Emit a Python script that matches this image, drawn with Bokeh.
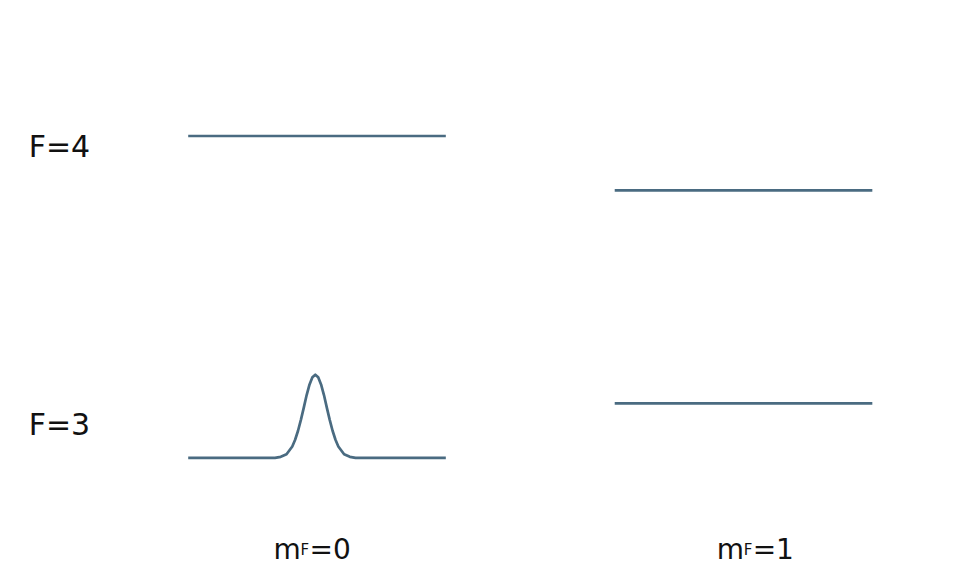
from bokeh.plotting import figure
from bokeh.models import Range1d
from bokeh.embed import file_html
from bokeh.resources import INLINE
from bokeh.core.properties import value

# ---- data ----
mF_values = [0, 1]                 # magnetic sublevels (x positions)
F_names = ["F=4", "F=3"]
E_mF0 = [10.0, 0.0]                # level energies at mF=0 (F=4, F=3)
E_mF1 = [8.31, 1.69]               # level energies at mF=1 (F=4, F=3)
level_half_width = 0.302           # half length of a level bar (in mF units)

# wave packet sitting on the F=3, mF=0 level
bump_x = [-0.0985, -0.0850, -0.0715, -0.0580, -0.0513, -0.0445, -0.0378, -0.0310,
          -0.0243, -0.0175, -0.0108, -0.0040, 0.0028, 0.0095, 0.0163, 0.0230,
          0.0298, 0.0365, 0.0433, 0.0500, 0.0635, 0.0770, 0.0905]
bump_h = [0.0, 0.03, 0.11, 0.35, 0.56, 0.84, 1.18, 1.56,
          1.95, 2.28, 2.50, 2.58, 2.50, 2.28, 1.95, 1.56,
          1.18, 0.84, 0.56, 0.35, 0.11, 0.03, 0.0]

# label placement
F_label_x = -0.676
F_label_y = [9.67, 1.03]
mF_label_x = [-0.102, 0.937]
mF_label_y = -2.86
mF_rest = ["=0", "=1"]

LINE = "#4a6b81"
TXT = "#111111"
FONT = "DejaVu Sans"

p = figure(width=957, height=566, output_backend="svg", toolbar_location=None,
           x_range=Range1d(-0.7421, 1.5017), y_range=Range1d(-3.378, 14.211),
           min_border=0, x_axis_location=None, y_axis_location=None)
p.outline_line_color = None
p.xgrid.visible = False
p.ygrid.visible = False
p.background_fill_color = "white"
p.border_fill_color = "white"

# flat levels: F=4 at mF=0, and both levels at mF=1
flat_x0 = [mF_values[0] - level_half_width, mF_values[1] - level_half_width, mF_values[1] - level_half_width]
flat_x1 = [mF_values[0] + level_half_width, mF_values[1] + level_half_width, mF_values[1] + level_half_width]
flat_y = [E_mF0[0], E_mF1[0], E_mF1[1]]
p.segment(x0=flat_x0, y0=flat_y, x1=flat_x1, y1=flat_y,
          line_color=LINE, line_width=2.7, line_cap="butt")

# F=3, mF=0 level with the wave packet on it
lx = [mF_values[0] - level_half_width] + [mF_values[0] + b for b in bump_x] + [mF_values[0] + level_half_width]
ly = [E_mF0[1]] + [E_mF0[1] + h for h in bump_h] + [E_mF0[1]]
p.line(lx, ly, line_color=LINE, line_width=2.7, line_join="round")

# F labels
p.text(x=[F_label_x] * 2, y=F_label_y, text=F_names,
       text_font=value(FONT), text_font_size="30px", text_color=TXT,
       text_align="left", text_baseline="alphabetic")

# m_F labels with subscript F
p.text(x=mF_label_x, y=[mF_label_y] * 2, text=["m", "m"],
       text_font=value(FONT), text_font_size="28px", text_color=TXT,
       text_align="left", text_baseline="alphabetic")
p.text(x=mF_label_x, y=[mF_label_y] * 2, text=["F", "F"], x_offset=27,
       text_font=value(FONT), text_font_size="15px", text_color=TXT,
       text_align="left", text_baseline="alphabetic")
p.text(x=mF_label_x, y=[mF_label_y] * 2, text=mF_rest, x_offset=36,
       text_font=value(FONT), text_font_size="28px", text_color=TXT,
       text_align="left", text_baseline="alphabetic")

open("out.html", "w").write(file_html(p, INLINE))
